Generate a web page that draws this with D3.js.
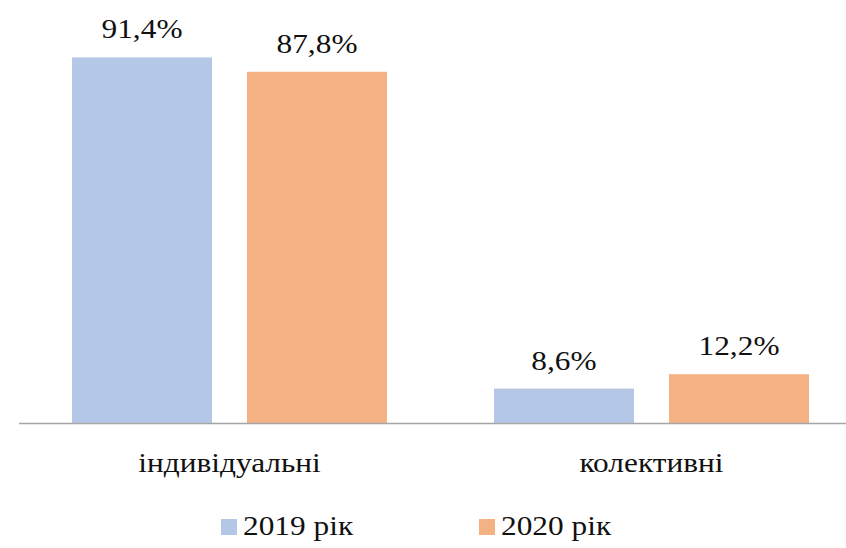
<!DOCTYPE html>
<html>
<head>
<meta charset="UTF-8">
<script src="https://d3js.org/d3.v7.min.js"></script>
</head>
<body style="margin:0">
<svg id="s" width="846" height="548"></svg>
<script>
        const categories = ["індивідуальні", "колективні"];
        const series = ["2019 рік", "2020 рік"];
        const values2019 = [91.4, 8.6];
        const values2020 = [87.8, 12.2];
        const valueLabels2019 = ["91,4%", "8,6%"];
        const valueLabels2020 = ["87,8%", "12,2%"];
        const colors = ["#B4C7E7", "#F4B183"];

        const baseline = 423;
        const serifFont = '"Liberation Serif", "Times New Roman", serif';
        const stretch = 1.12;

        const svg = d3.select("#s");

        const data = categories.map((c, i) => ({
          category: c,
          values: [
            {series: series[0], value: values2019[i], label: valueLabels2019[i]},
            {series: series[1], value: values2020[i], label: valueLabels2020[i]}
          ]
        }));

        const x0 = d3.scaleBand()
          .domain(categories)
          .range([18.5, 862.5]);

        const x1 = d3.scaleBand()
          .domain(series)
          .range([53.5, 368.5])
          .paddingInner(0.2);

        const y = d3.scaleLinear()
          .domain([0, 100])
          .range([baseline, 23]);

        const color = d3.scaleOrdinal()
          .domain(series)
          .range(colors);

        const groups = svg.selectAll("g.group")
          .data(data)
          .enter()
          .append("g")
          .attr("class", "group")
          .attr("transform", (d) => `translate(${x0(d.category)}, 0)`);

        groups.selectAll("rect")
          .data((d) => d.values)
          .enter()
          .append("rect")
          .attr("x", (d) => x1(d.series))
          .attr("y", (d) => y(d.value))
          .attr("width", x1.bandwidth())
          .attr("height", (d) => baseline - y(d.value))
          .style("fill", (d) => color(d.series));

        groups.selectAll("text.value")
          .data((d) => d.values)
          .enter()
          .append("text")
          .attr("class", "value")
          .attr("text-anchor", "middle")
          .attr("transform", (d) => `translate(${x1(d.series) + x1.bandwidth() / 2}, ${y(d.value) - 19}) scale(${stretch}, 1)`)
          .style("font-family", serifFont, "important")
          .style("font-size", "28px")
          .style("fill", "#111")
          .text((d) => d.label);

        const axis = svg.append("g")
          .attr("transform", `translate(0, ${baseline})`)
          .call(d3.axisBottom(x0).tickSize(0));

        axis.attr("font-family", null);

        axis.select(".domain")
          .attr("stroke", "#a6a6a6")
          .attr("stroke-width", 1.5);

        axis.selectAll("text")
          .attr("y", 0)
          .attr("dy", null)
          .attr("transform", `translate(0, 49) scale(${stretch}, 1)`)
          .style("font-family", serifFont, "important")
          .style("font-size", "28px")
          .style("fill", "#111");

        const legendX = [221, 479];
        const legend = svg.selectAll("g.legend")
          .data(series)
          .enter()
          .append("g")
          .attr("class", "legend")
          .attr("transform", (d, i) => `translate(${legendX[i]}, 535)`);

        legend.append("rect")
          .attr("x", 0)
          .attr("y", -16)
          .attr("width", 16)
          .attr("height", 16)
          .style("fill", (d) => color(d));

        legend.append("text")
          .attr("transform", `translate(22, 0) scale(${stretch}, 1)`)
          .style("font-family", serifFont, "important")
          .style("font-size", "28px")
          .style("fill", "#111")
          .text((d) => d);
</script>
</body>
</html>
